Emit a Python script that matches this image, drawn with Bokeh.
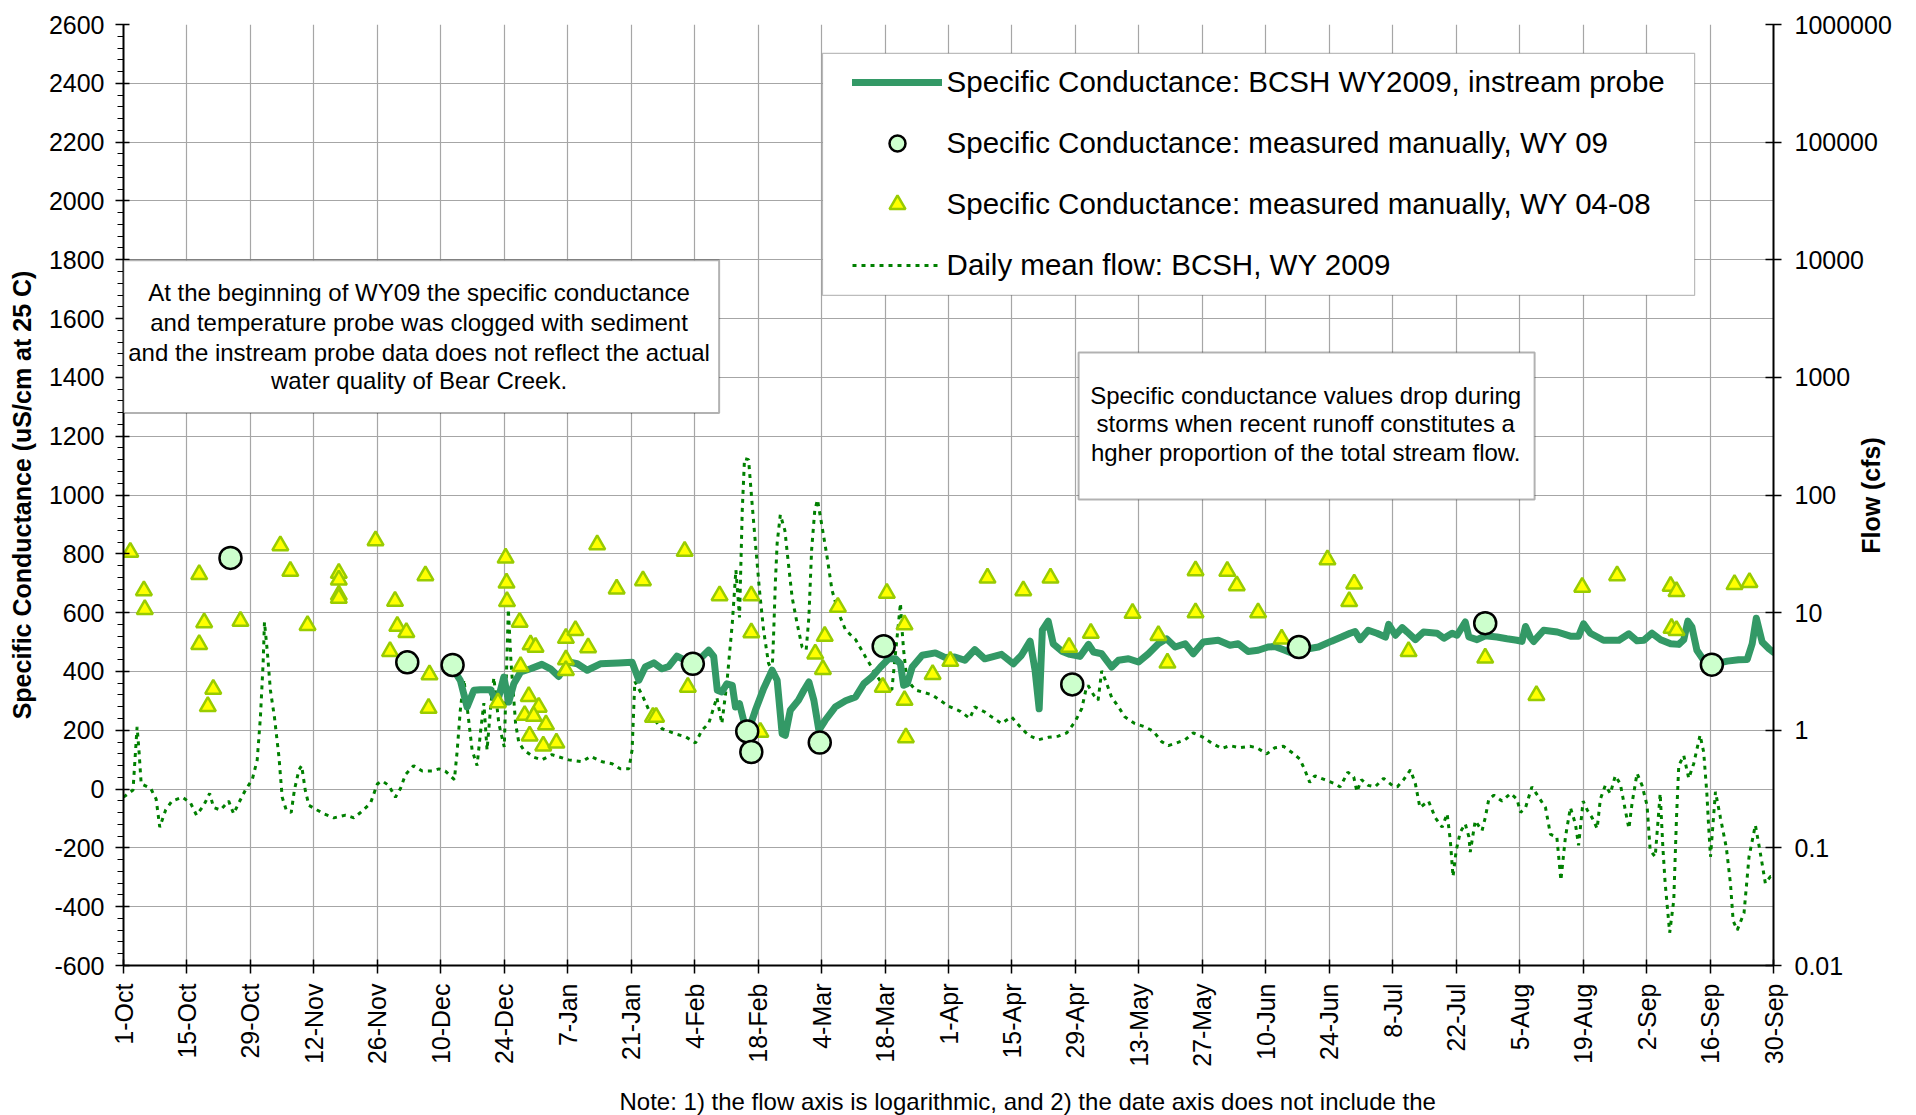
import math
from bokeh.plotting import figure
from bokeh.models import (Range1d, LogAxis, LogScale, FixedTicker, SingleIntervalTicker,
                          BoxAnnotation, Label, Legend, LegendItem, Title)
from bokeh.embed import file_html
from bokeh.resources import INLINE

# ---------------- data (day index 0 = 1-Oct-2008, WY2009) ----------------
tick_days = [0, 14, 28, 42, 56, 70, 84, 98, 112, 126, 140, 154, 168, 182, 196, 210, 224,
             238, 252, 266, 280, 294, 308, 322, 336, 350, 364]
tick_labels = ["1-Oct", "15-Oct", "29-Oct", "12-Nov", "26-Nov", "10-Dec", "24-Dec", "7-Jan",
               "21-Jan", "4-Feb", "18-Feb", "4-Mar", "18-Mar", "1-Apr", "15-Apr", "29-Apr",
               "13-May", "27-May", "10-Jun", "24-Jun", "8-Jul", "22-Jul", "5-Aug", "19-Aug",
               "2-Sep", "16-Sep", "30-Sep"]

# instream probe specific conductance (uS/cm)
probe_day = [72.9, 74.3, 75.8, 77.3, 78.7, 81.0, 82.4, 83.9, 85.0, 86.1, 87.6, 89.8, 92.3, 94.2,
             96.0, 98.2, 100.1, 102.3, 105.2, 109.2, 112.2, 113.7, 115.1, 117.0, 118.8, 120.3,
             122.1, 125.4, 127.6, 129.1, 130.2, 131.0, 132.0, 133.1, 134.3, 135.0, 135.9, 136.8,
             137.9, 139.4, 141.2, 143.1, 144.2, 145.3, 146.0, 147.1, 148.9, 150.1, 151.2, 152.3,
             153.4, 154.8, 157.0, 159.3, 161.5, 163.3, 165.1, 167.0, 168.8, 170.3, 171.4, 172.1,
             172.9, 174.0, 176.2, 179.1, 181.3, 183.4, 185.6, 187.8, 190.0, 193.7, 196.3, 198.1,
             200.0, 201.1, 202.0, 202.7, 204.0, 205.1, 207.0, 208.8, 211.0, 212.9, 214.0, 215.8,
             218.0, 219.5, 221.7, 223.9, 226.1, 228.3, 230.1, 232.0, 234.2, 236.0, 238.2, 241.5,
             244.1, 245.9, 248.1, 250.3, 252.5, 254.0, 256.2, 257.7, 259.5, 261.4, 263.6, 266.5,
             268.7, 270.6, 271.7, 272.8, 274.6, 276.5, 278.4, 279.1, 280.6, 282.1, 283.2, 285.0,
             286.8, 289.8, 291.3, 293.1, 294.2, 296.0, 296.8, 298.6, 300.4, 303.0, 305.2, 307.4,
             308.5, 309.3, 310.4, 311.1, 313.3, 316.3, 319.2, 321.0, 322.1, 323.6, 326.5, 329.9,
             332.1, 333.9, 335.4, 337.2, 339.1, 341.3, 343.1, 344.2, 345.1, 346.0, 347.1, 348.6,
             350.4, 353.8, 356.3, 358.2, 359.3, 360.2, 361.5, 363.0, 364.0]
probe_sc = [404, 370, 279, 336, 338, 338, 290, 381, 296, 358, 398, 409, 424, 409,
            383, 432, 426, 404, 426, 429, 431, 370, 415, 429, 409, 417,
            452, 426, 449, 472, 451, 336, 330, 358, 353, 279, 290, 234,
            200, 268, 341, 404, 370, 188, 183, 268, 302, 336, 364, 302,
            200, 234, 279, 300, 313, 358, 381, 415, 443, 443, 426, 353,
            358, 415, 455, 463, 447, 449, 438, 474, 443, 458, 426, 455,
            503, 404, 273, 540, 571, 494, 469, 458, 451, 492, 466, 460,
            415, 438, 443, 432, 460, 494, 511, 483, 494, 460, 500, 506,
            489, 494, 468, 472, 483, 485, 472, 463, 478, 477, 483, 503,
            517, 530, 536, 508, 540, 530, 517, 560, 523, 549, 534, 508,
            534, 530, 513, 530, 523, 568, 517, 508, 521, 517, 511, 506,
            502, 553, 515, 502, 540, 534, 520, 520, 562, 530, 506, 506,
            528, 504, 506, 530, 508, 494, 492, 508, 571, 551, 472, 438,
            423, 435, 440, 441, 494, 581, 500, 477, 465]

# manual measurements WY09
wy09_day = [23.6, 62.6, 72.6, 125.6, 137.6, 138.5, 153.6, 167.7, 209.3, 259.3, 300.4, 350.4]
wy09_sc = [786, 431, 422, 426, 196, 126, 158, 486, 356, 483, 564, 423]

# manual measurements WY04-08 (plotted by day of water year)
hist_day = [1.5, 4.5, 4.7, 16.7, 17.8, 16.7, 19.8, 18.6, 34.6, 36.8, 25.8, 40.6, 47.5, 47.5,
            47.5, 47.5, 55.6, 59.9, 60.4, 62.4, 58.8, 66.6, 67.5, 67.3, 84.3, 84.5, 84.6, 87.4,
            89.8, 90.9, 87.6, 82.6, 89.4, 91.6, 88.5, 90.5, 89.6, 92.6, 95.5, 93.2,
            97.6, 99.7, 102.5, 97.6, 97.6, 104.5, 108.8, 114.6, 123.8, 124.5, 116.8, 117.5,
            131.5, 138.5, 138.5, 140.5, 157.6, 154.7, 152.6, 154.3, 168.4, 172.3, 167.5, 172.3,
            172.6, 178.5, 182.4,
            190.6, 198.5, 204.5, 208.6, 213.4, 222.6, 228.3, 230.3, 236.5, 236.5, 243.5, 245.6,
            250.3, 255.5, 265.6, 271.5, 270.4,
            283.5, 300.4, 311.7, 321.8, 329.5, 341.3, 342.6, 341.5, 342.6, 355.4, 358.7]
hist_sc = [806, 675, 611, 730, 566, 492, 340, 281, 828, 741, 571, 557, 734, 711,
           660, 649, 845, 639, 554, 533, 468, 726, 389, 275, 786, 701, 638, 568,
           491, 483, 417, 294, 315, 279, 251, 248, 181, 147, 157, 219,
           513, 540, 481, 440, 404, 831, 681, 709, 809, 347, 245, 245,
           658, 658, 532, 194, 619, 520, 460, 407, 666, 559, 347, 302,
           175, 390, 435,
           718, 675, 718, 483, 530, 598, 523, 429, 743, 600, 741, 692,
           600, 511, 780, 698, 638,
           468, 446, 319, 687, 726, 690, 672, 547, 540, 696, 703]

# daily mean flow (cfs)
flow_day = [0.0, 2.1, 3.0, 3.4, 3.9, 6.0, 7.2, 8.0, 9.3, 10.7, 13.0, 14.8, 16.1, 17.7, 19.0,
            19.9, 21.4, 23.2, 24.3, 25.4, 26.9, 28.4, 29.5, 30.2, 30.8, 31.1, 31.7, 32.4, 33.3,
            34.3, 35.0, 35.9, 37.0, 37.7, 38.7, 39.3, 40.1, 40.9, 42.7, 44.2, 46.4, 49.0, 50.8,
            52.3, 54.5, 56.0, 57.1, 58.5, 60.0, 61.1, 62.2, 64.0, 65.9, 68.1, 69.6, 71.0, 73.0,
            73.6, 74.3, 75.1, 76.2, 76.9, 78.0, 78.8, 79.5, 80.2, 81.0, 81.7, 82.8, 84.0, 84.5,
            84.9, 85.5, 86.5, 87.2, 88.3, 90.5, 92.3, 94.5, 98.2, 101.2, 103.0, 105.6, 107.8,
            109.6, 111.5, 112.2, 112.8, 114.4, 116.6, 118.8, 121.8, 124.0, 126.2, 127.6, 129.1,
            130.9, 132.0, 133.1, 134.3, 135.1, 135.9, 136.5, 137.0, 137.9, 138.6, 139.4, 140.3,
            141.2, 142.3, 143.1, 143.4, 143.8, 144.2, 144.9, 145.9, 146.6, 147.5, 148.6, 149.7,
            150.6, 151.2, 151.8, 152.5, 153.1, 154.1, 155.2, 156.3, 157.8, 159.3, 161.5, 163.7,
            165.5, 167.3, 169.5, 171.4, 171.7, 172.1, 172.8, 174.7, 178.4, 182.0, 184.6, 186.7,
            187.8, 190.0, 191.5, 193.7, 195.9, 197.8, 199.6, 201.8, 204.0, 206.2, 208.1, 209.9,
            211.4, 212.3, 212.8, 214.0, 215.0, 215.8, 216.9, 218.0, 219.5, 220.9, 223.1, 225.3,
            227.2, 229.0, 230.5, 232.3, 234.2, 236.0, 238.2, 240.0, 242.3, 244.1, 246.3, 248.5,
            250.0, 252.2, 254.0, 255.9, 257.7, 259.5, 260.6, 261.7, 262.8, 265.0, 267.3, 268.4,
            270.1, 271.4, 272.1, 273.1, 274.6, 276.1, 278.0, 279.9, 281.0, 282.4, 283.9, 285.0,
            286.0, 287.9, 289.4, 290.9, 292.0, 292.7, 293.3, 294.0, 294.9, 296.0, 296.8, 297.1,
            298.2, 299.7, 300.4, 301.2, 302.3, 304.1, 306.0, 307.4, 308.2, 309.3, 310.7, 312.2,
            313.7, 314.8, 316.2, 317.1, 318.1, 319.2, 320.3, 321.0, 322.0, 322.9, 324.0, 325.1,
            325.8, 326.9, 328.0, 329.1, 330.2, 331.3, 332.1, 332.8, 333.9, 335.0, 336.1, 336.8,
            337.9, 339.0, 339.6, 340.1, 341.1, 342.0, 342.6, 343.1, 344.2, 345.3, 346.4, 347.8,
            348.6, 349.3, 349.7, 350.1, 351.2, 352.3, 353.6, 354.5, 355.1, 356.0, 357.5, 358.6,
            360.0, 360.8, 361.5, 362.2, 363.3, 364.0]
flow_cfs = [0.27, 0.31, 1.07, 0.68, 0.35, 0.32, 0.26, 0.15, 0.21, 0.25, 0.27, 0.24, 0.19, 0.23, 0.29,
            0.22, 0.21, 0.25, 0.195, 0.24, 0.31, 0.38, 0.56, 1.29, 3.7, 8.3, 4.8, 2.2, 1.29,
            0.59, 0.27, 0.21, 0.20, 0.31, 0.46, 0.50, 0.31, 0.23, 0.21, 0.195, 0.18, 0.19, 0.18,
            0.20, 0.24, 0.35, 0.37, 0.34, 0.27, 0.32, 0.42, 0.50, 0.45, 0.45, 0.47, 0.45, 0.38,
            0.66, 1.48, 2.7, 1.17, 0.68, 0.50, 1.0, 1.7, 0.68, 1.58, 2.8, 1.14, 0.72, 3.2,
            10.7, 3.7, 1.14, 0.79, 0.68, 0.59, 0.56, 0.62, 0.56, 0.54, 0.60, 0.54, 0.52,
            0.47, 0.47, 0.68, 2.6, 2.0, 1.29, 1.03, 0.93, 0.88, 0.78, 1.0, 1.14,
            1.9, 1.14, 2.5, 8.1, 23, 9.1, 74, 204, 200, 91, 39, 15.5,
            7.1, 3.7, 3.2, 6.2, 17.8, 39, 68, 50, 28, 13.5, 8.1, 5.1,
            4.8, 9.1, 34, 74, 91, 54, 30, 15.5, 9.8, 7.1, 5.9, 4.2,
            3.2, 2.5, 2.2, 12, 7.6, 4.8, 2.7, 2.2, 2.0, 1.6, 1.45, 1.26,
            1.58, 1.43, 1.30, 1.14, 1.30, 1.07, 0.91, 0.83, 0.87, 0.89, 0.95, 1.18,
            1.53, 2.2, 2.4, 2.0, 1.8, 3.2, 2.5, 1.9, 1.58, 1.30, 1.14, 1.07,
            0.98, 0.80, 0.74, 0.78, 0.83, 0.95, 0.87, 0.78, 0.70, 0.74, 0.71, 0.73,
            0.71, 0.63, 0.71, 0.73, 0.65, 0.57, 0.46, 0.36, 0.41, 0.38, 0.35, 0.33,
            0.44, 0.40, 0.30, 0.38, 0.34, 0.33, 0.39, 0.34, 0.33, 0.38, 0.46, 0.35,
            0.22, 0.25, 0.18, 0.15, 0.195, 0.116, 0.057, 0.095, 0.136, 0.16, 0.124, 0.092,
            0.17, 0.14, 0.18, 0.26, 0.28, 0.25, 0.29, 0.26, 0.20, 0.22, 0.33, 0.27,
            0.22, 0.13, 0.124, 0.053, 0.124, 0.22, 0.16, 0.105, 0.25, 0.21, 0.18, 0.146,
            0.26, 0.34, 0.29, 0.41, 0.35, 0.21, 0.146, 0.24, 0.43, 0.34, 0.23, 0.095,
            0.084, 0.29, 0.10, 0.050, 0.019, 0.036, 0.18, 0.50, 0.61, 0.39, 0.52, 0.91,
            0.65, 0.29, 0.15, 0.084, 0.30, 0.18, 0.10, 0.050, 0.024, 0.020, 0.028, 0.084,
            0.156, 0.105, 0.073, 0.050, 0.057, 0.057]

flow_ticks = [0.01, 0.1, 1, 10, 100, 1000, 10000, 100000, 1000000]
flow_tick_labels = ["0.01", "0.1", "1", "10", "100", "1000", "10000", "100000", "1000000"]

legend_labels = ["Specific Conductance: BCSH WY2009, instream probe",
                 "Specific Conductance: measured manually, WY 09",
                 "Specific Conductance: measured manually, WY 04-08",
                 "Daily mean flow: BCSH, WY 2009"]

note1_lines = ["At the beginning of WY09 the specific conductance",
               "and temperature probe was clogged with sediment",
               "and the instream probe data does not reflect the actual",
               "water quality of Bear Creek."]
note2_lines = ["Specific conductance values drop during",
               "storms when recent runoff constitutes a",
               "hgher proportion of the total stream flow."]
footnote = "Note: 1) the flow axis is logarithmic, and 2) the date axis does not include the"

# ---------------- figure ----------------
FONT = "Liberation Sans"
p = figure(frame_width=1650, frame_height=941,
           x_range=Range1d(0, 364), y_range=Range1d(-600, 2600),
           output_backend="svg", toolbar_location=None,
           min_border_left=123, min_border_right=141, min_border_top=24, min_border_bottom=148)
p.extra_y_ranges = {"flow": Range1d(0.01, 1000000)}
p.extra_y_scales = {"flow": LogScale()}
p.outline_line_color = None
p.background_fill_color = "white"
p.border_fill_color = "white"

# grids
p.xgrid.ticker = FixedTicker(ticks=tick_days)
p.ygrid.ticker = SingleIntervalTicker(interval=200)
for g in (p.xgrid, p.ygrid):
    g.grid_line_color = "#a6a6a6"
    g.grid_line_width = 1.2

# bottom axis
xa = p.xaxis[0]
xa.ticker = FixedTicker(ticks=tick_days)
xa.major_label_overrides = {d: s for d, s in zip(tick_days, tick_labels)}
xa.major_label_orientation = math.pi / 2
xa.major_label_text_font = FONT
xa.major_label_text_font_size = "25px"
xa.major_label_text_color = "black"
xa.major_label_standoff = 10
xa.axis_line_color = "black"
xa.axis_line_width = 2
xa.major_tick_line_color = "black"
xa.major_tick_line_width = 1.5
xa.major_tick_in = 6
xa.major_tick_out = 8

# left axis
ya = p.yaxis[0]
ya.ticker = SingleIntervalTicker(interval=200, num_minor_ticks=5)
ya.major_label_overrides = {-200: "-200", -400: "-400", -600: "-600"}
ya.major_label_text_font = FONT
ya.major_label_text_font_size = "25px"
ya.major_label_text_color = "black"
ya.major_label_standoff = 11
ya.axis_line_color = "black"
ya.axis_line_width = 2
ya.major_tick_line_color = "black"
ya.major_tick_line_width = 1.5
ya.major_tick_in = 6
ya.major_tick_out = 8
ya.minor_tick_line_color = "black"
ya.minor_tick_line_width = 1
ya.minor_tick_in = 0
ya.minor_tick_out = 6
ya.axis_label = "Specific Conductance (uS/cm at 25 C)"
ya.axis_label_text_font = FONT
ya.axis_label_text_font_size = "25px"
ya.axis_label_text_font_style = "bold"
ya.axis_label_text_color = "black"
ya.axis_label_standoff = 10

# right (log) axis
ra = LogAxis(y_range_name="flow", ticker=FixedTicker(ticks=flow_ticks))
ra.major_label_overrides = {v: s for v, s in zip(flow_ticks, flow_tick_labels)}
ra.major_label_text_font = FONT
ra.major_label_text_font_size = "25px"
ra.major_label_text_color = "black"
ra.major_label_standoff = 13
ra.axis_line_color = "black"
ra.axis_line_width = 2
ra.major_tick_line_color = "black"
ra.major_tick_line_width = 1.5
ra.major_tick_in = 8
ra.major_tick_out = 8
ra.minor_tick_line_color = None
p.add_layout(ra, "right")

# right axis title, placed in the right side panel (reads bottom-to-top)
p.add_layout(Label(x=-24, y=470, x_units="screen", y_units="screen", text="Flow (cfs)",
                   angle=math.pi / 2, text_align="center", text_baseline="middle",
                   text_font=FONT, text_font_size="25px", text_font_style="bold",
                   text_color="black"), "right")

# footnote below the date axis
p.add_layout(Title(text=footnote, align="left", offset=496, standoff=32,
                   text_font=FONT, text_font_size="24px", text_font_style="normal",
                   text_color="black"), "below")

# ---------------- glyphs ----------------
r_flow = p.line(flow_day, flow_cfs, y_range_name="flow", line_color="#008000",
                line_width=3, line_dash="4 5")
r_probe = p.line(probe_day, probe_sc, line_color="#339966", line_width=7,
                 line_join="round", line_cap="round")
r_hist = p.scatter(hist_day, hist_sc, marker="triangle", size=16, fill_color="#ffff00",
                   line_color="#99cc00", line_width=2.5)
r_wy09 = p.scatter(wy09_day, wy09_sc, marker="circle", size=22, fill_color="#ccffcc",
                   line_color="black", line_width=2.5)

# ---------------- annotation boxes ----------------
box1 = BoxAnnotation(left=0, right=131.4, top=1798, bottom=1279, fill_color="white",
                     fill_alpha=1, line_color="black", line_width=2)
box2 = BoxAnnotation(left=210.7, right=311.3, top=1485, bottom=985, fill_color="white",
                     fill_alpha=1, line_color="black", line_width=2)
legbox = BoxAnnotation(left=154.2, right=346.6, top=2502, bottom=1679, fill_color="white",
                       fill_alpha=1, line_color="#222222", line_width=1.2)
for b in (box1, box2, legbox):
    p.add_layout(b)

for txt, yy in zip(note1_lines, [1690, 1588, 1486, 1389]):
    p.add_layout(Label(x=65.2, y=yy, text=txt, text_align="center", text_baseline="middle",
                       text_font=FONT, text_font_size="24px", text_color="black"))
for txt, yy in zip(note2_lines, [1338, 1242, 1145]):
    p.add_layout(Label(x=260.8, y=yy, text=txt, text_align="center", text_baseline="middle",
                       text_font=FONT, text_font_size="24px", text_color="black"))

# ---------------- legend ----------------
legend = Legend(items=[LegendItem(label=legend_labels[0], renderers=[r_probe]),
                       LegendItem(label=legend_labels[1], renderers=[r_wy09]),
                       LegendItem(label=legend_labels[2], renderers=[r_hist]),
                       LegendItem(label=legend_labels[3], renderers=[r_flow])],
                location=(719.6, 671.3))
legend.border_line_alpha = 0
legend.background_fill_alpha = 0
legend.label_text_font = FONT
legend.label_text_font_size = "29.5px"
legend.label_text_color = "black"
legend.glyph_width = 90
legend.glyph_height = 40
legend.label_height = 40
legend.spacing = 21
legend.padding = 9
legend.margin = 0
legend.label_standoff = 5
p.add_layout(legend)

open("out.html", "w").write(file_html(p, INLINE))
